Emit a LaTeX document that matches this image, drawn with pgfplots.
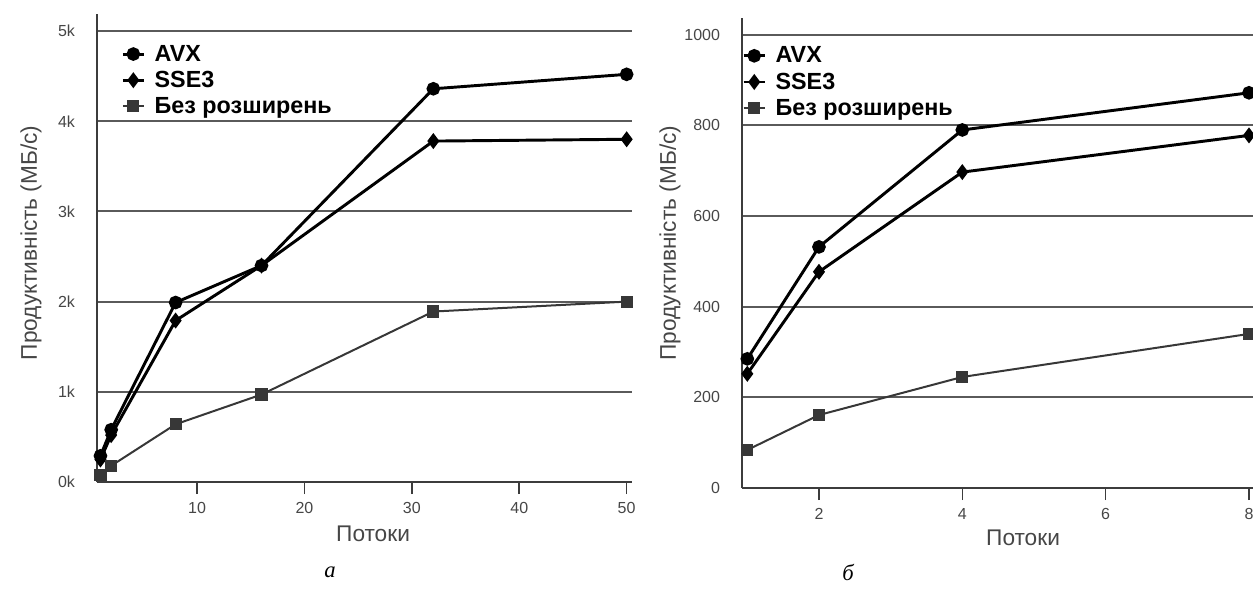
\documentclass[border=0pt]{standalone}
\usepackage{fontspec}
\setmainfont{Liberation Sans}
\newfontfamily\capfont{Liberation Serif}
\usepackage{pgfplots}
\pgfplotsset{compat=1.18}
\definecolor{Grid}{RGB}{90,90,90}
\definecolor{AxisC}{RGB}{60,60,60}
\definecolor{Lbl}{RGB}{70,70,70}
\definecolor{Plain}{RGB}{55,55,55}

\tikzset{xlab/.style={font=\fontsize{17}{20}\selectfont, text=Lbl, anchor=center}}

\pgfplotsset{
  perf/.style={
    scale only axis,
    axis x line=bottom, axis y line=left,
    axis line style={AxisC, line width=1.5pt, -},
    every outer x axis line/.append style={-},
    every outer y axis line/.append style={-},
    ymajorgrids, major grid style={Grid, line width=1.4pt},
    xtick style={AxisC, line width=1.2pt},
    ytick style={draw=none},
    tick align=outside,
    major tick length=9pt,
    tick label style={font=\fontsize{12}{14}\selectfont, text=Lbl},
    /pgf/number format/assume math mode=true,
    /pgf/number format/1000 sep={},
    yticklabel style={xshift=-4pt},
    xticklabel style={yshift=-3pt},
    legend style={draw=none, fill=none, font=\fontsize{17.5}{19}\selectfont\bfseries,
                  row sep=2pt, anchor=north west, inner sep=0pt, legend cell align=left,
                  /tikz/every odd column/.append style={column sep=5pt}},
    legend image code/.code={\draw[mark repeat=2, mark phase=2, #1]
        plot coordinates {(0pt,0pt) (7.9pt,0pt) (15.8pt,0pt)};},
    clip=false,
  },
  avx/.style={black, line width=2.2pt, mark=*, mark size=4pt, mark options={solid}},
  sse/.style={black, line width=2.2pt, mark=diamond*, mark size=4.2pt, mark options={solid}},
  plain/.style={Plain, line width=1.5pt, mark=square*, mark size=3.8pt, mark options={solid}},
}

\begin{document}
\begin{tikzpicture}
\useasboundingbox (0pt,0pt) rectangle (939.75pt,-442.5pt);

% panel a
\begin{axis}[
    perf,
    at={(72.75pt,-361.5pt)}, anchor=south west,
    width=401.25pt, height=351pt,
    xmin=0.68, xmax=50.5, ymin=0, ymax=5189,
    xtick={10,20,30,40,50},
    ytick={0,1000,2000,3000,4000,5000},
    yticklabels={0k,1k,2k,3k,4k,5k},
    xlabel={Потоки}, ylabel={Продуктивність (МБ/с)},
    every axis x label/.style={xlab, at={(axis description cs:0.516,0)}, yshift=-39pt},
    every axis y label/.style={xlab, at={(axis description cs:-0.1234,0.511)}, rotate=90},
    legend style={at={(axis description cs:0.045,0.94)}},
]
\addplot[avx] coordinates {(1,290) (2,580) (8,1990) (16,2400) (32,4360) (50,4520)};
\addplot[sse] coordinates {(1,250) (2,520) (8,1790) (16,2400) (32,3780) (50,3800)};
\addplot[plain] coordinates {(1,80) (2,180) (8,640) (16,970) (32,1890) (50,2000)};
\legend{AVX, SSE3, Без розширень}
\end{axis}

% panel b
\begin{axis}[
    perf,
    at={(556.5pt,-366pt)}, anchor=south west,
    width=383.25pt, height=352.5pt,
    xmin=0.926, xmax=8.056, ymin=0, ymax=1037,
    xtick={2,4,6,8},
    ytick={0,200,400,600,800,1000},
    xlabel={Потоки}, ylabel={Продуктивність (МБ/с)},
    every axis x label/.style={xlab, at={(axis description cs:0.55,0)}, yshift=-37pt},
    every axis y label/.style={xlab, at={(axis description cs:-0.141,0.521)}, rotate=90},
    legend style={at={(axis description cs:0,0.945)}},
]
\addplot[avx] coordinates {(1,285) (2,532) (4,790) (8,872)};
\addplot[sse] coordinates {(1,252) (2,477) (4,697) (8,778)};
\addplot[plain] coordinates {(1,84) (2,161) (4,245) (8,340)};
\legend{AVX, SSE3, Без розширень}
\end{axis}

\node[font=\capfont\itshape\fontsize{17}{20}\selectfont] at (247.5pt,-429pt) {а};
\node[font=\capfont\itshape\fontsize{17}{20}\selectfont] at (636pt,-429pt) {б};
\end{tikzpicture}
\end{document}
